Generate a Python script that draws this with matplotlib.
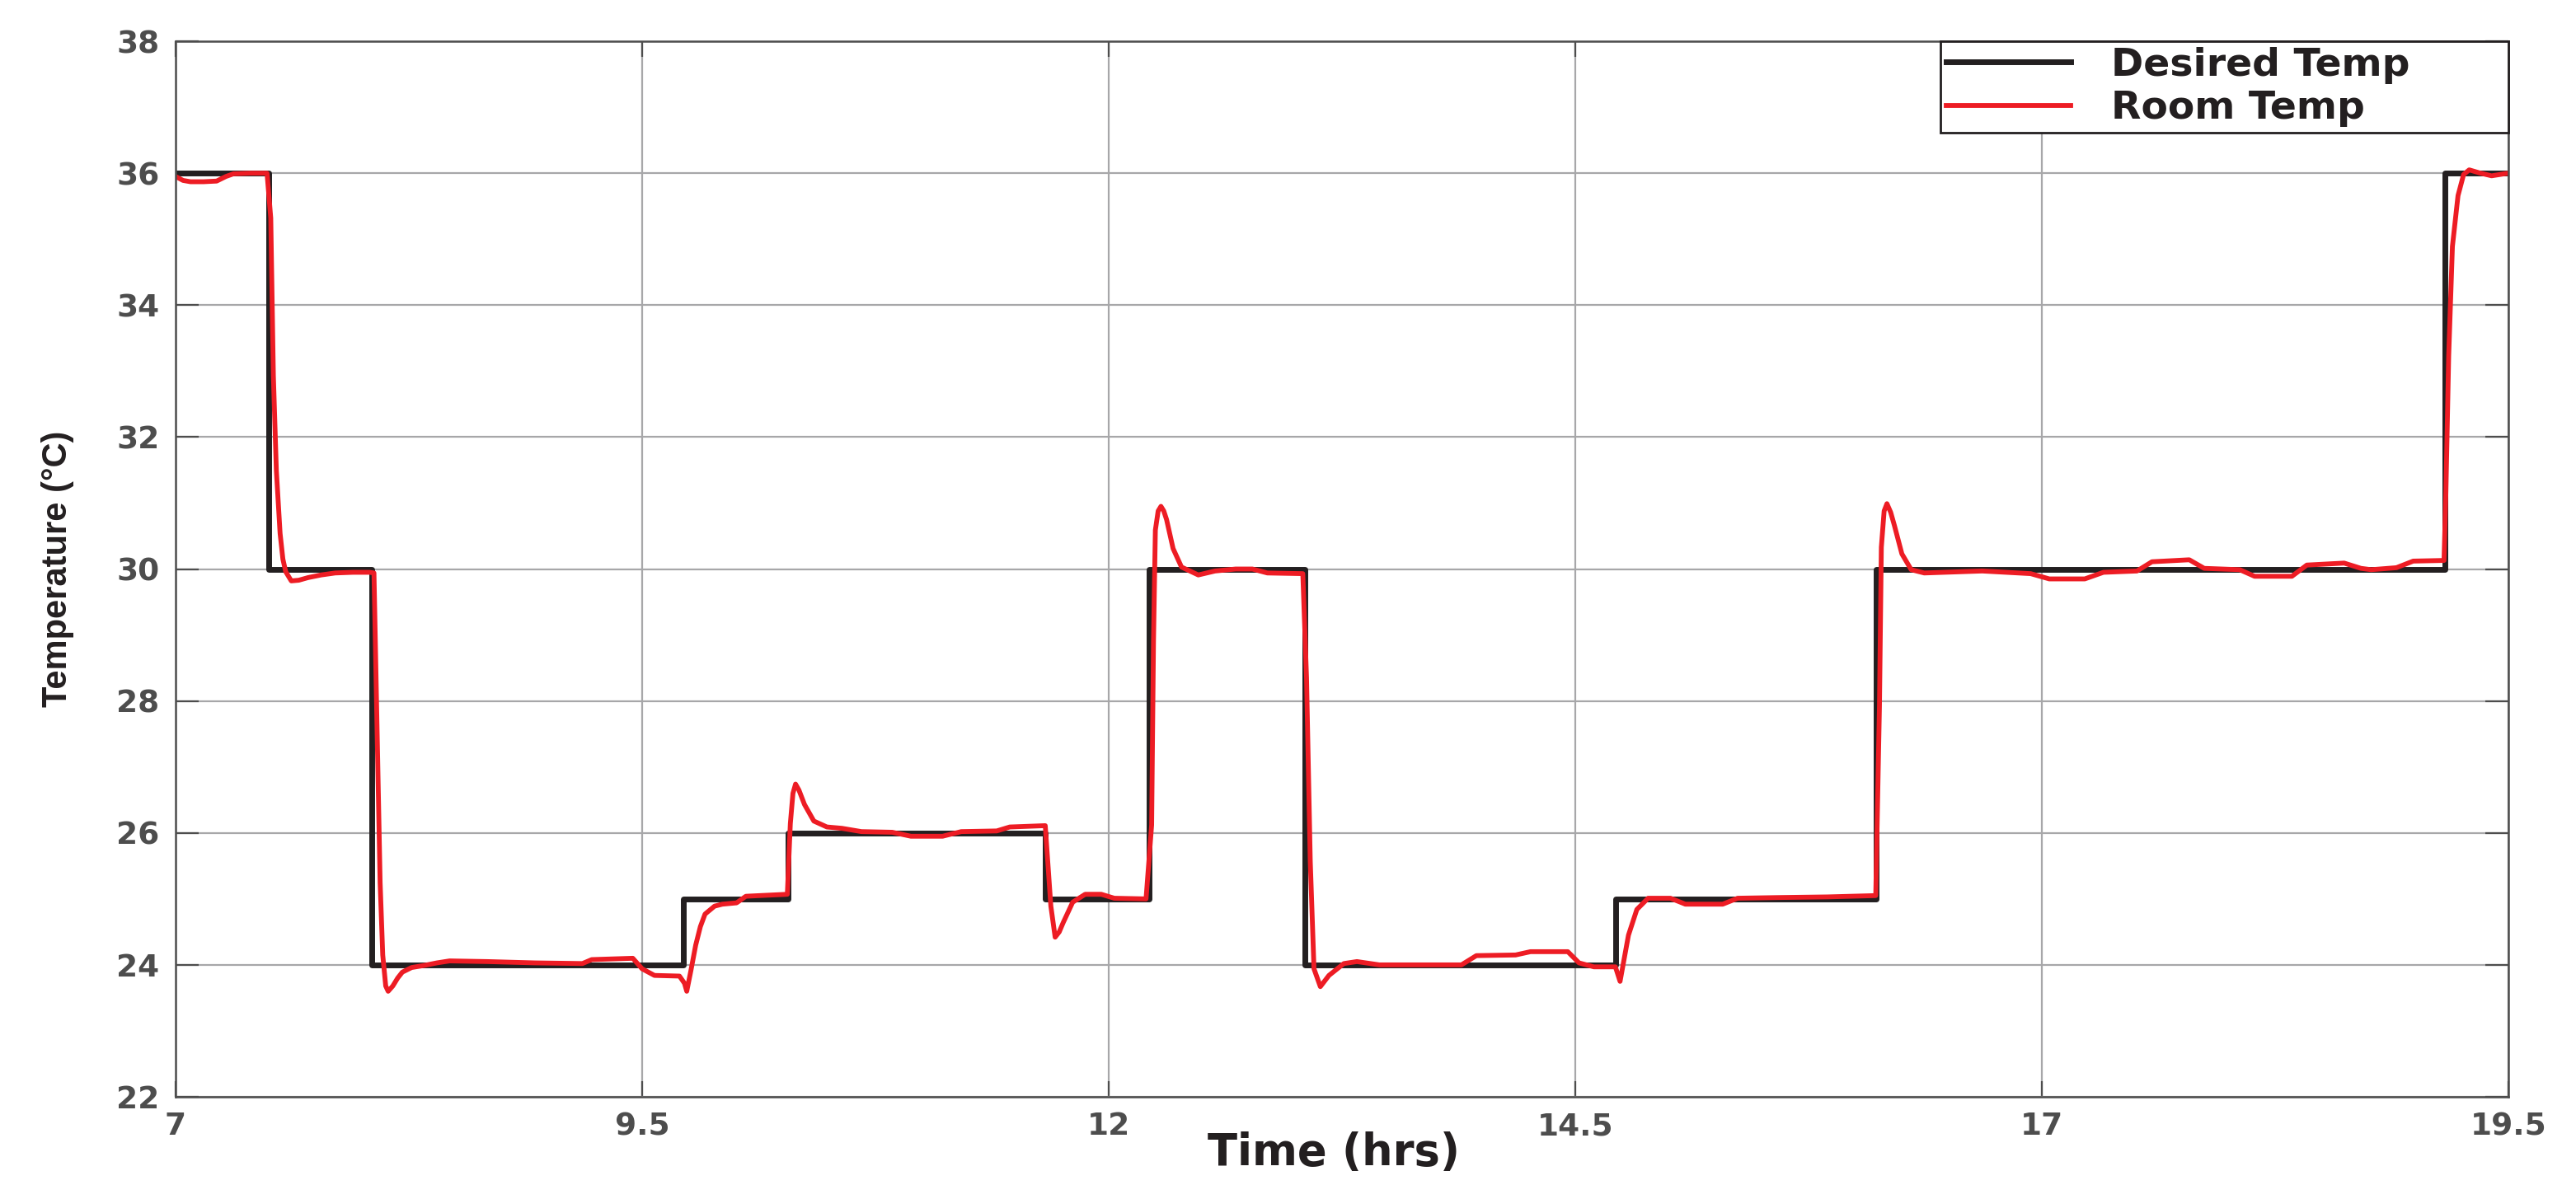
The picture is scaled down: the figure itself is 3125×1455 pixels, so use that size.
import matplotlib
matplotlib.use("Agg")
import matplotlib.pyplot as plt
from matplotlib import font_manager

# desired set-point schedule (step changes)
desired_t = [7.0, 7.5, 8.05, 9.72, 10.28, 11.66, 12.215, 13.05, 14.715, 16.11, 19.16, 19.5]
desired_temp = [36, 30, 24, 25, 26, 25, 30, 24, 25, 30, 36, 36]

# room temperature response
room_t = [7.00, 7.04, 7.08, 7.15, 7.22, 7.27, 7.31, 7.40, 7.49, 7.51, 7.524, 7.54, 7.56, 7.575,
          7.59, 7.62, 7.66, 7.71, 7.78, 7.855, 7.95, 8.04, 8.063, 8.079, 8.096, 8.11, 8.126,
          8.139, 8.164, 8.19, 8.215, 8.265, 8.33, 8.40, 8.468, 8.67, 8.925, 9.18, 9.23, 9.45,
          9.50, 9.566, 9.70, 9.727, 9.739, 9.761, 9.787, 9.812, 9.837, 9.888, 9.93, 10.006,
          10.056, 10.278, 10.294, 10.308, 10.322, 10.34, 10.37, 10.42, 10.49, 10.57, 10.675,
          10.84, 10.94, 11.11, 11.21, 11.40, 11.47, 11.66, 11.69, 11.713, 11.735, 11.756, 11.807,
          11.874, 11.96, 12.03, 12.20, 12.23, 12.24, 12.25, 12.265, 12.28, 12.295, 12.31, 12.345,
          12.39, 12.48, 12.57, 12.68, 12.77, 12.85, 13.04, 13.06, 13.08, 13.10, 13.134, 13.18,
          13.26, 13.33, 13.45, 13.89, 13.97, 14.18, 14.26, 14.46, 14.52, 14.60, 14.715, 14.74,
          14.785, 14.83, 14.89, 15.01, 15.09, 15.29, 15.37, 15.58, 15.85, 16.11, 16.13, 16.14,
          16.155, 16.17, 16.19, 16.21, 16.25, 16.30, 16.37, 16.68, 16.94, 17.04, 17.23, 17.33,
          17.51, 17.59, 17.79, 17.87, 18.06, 18.14, 18.34, 18.42, 18.62, 18.71, 18.765, 18.90,
          18.99, 19.155, 19.165, 19.18, 19.20, 19.23, 19.26, 19.29, 19.35, 19.41, 19.5]
room_temp = [35.95, 35.89, 35.87, 35.87, 35.88, 35.95, 35.99, 36.00, 36.00, 35.32, 32.93, 31.49,
             30.54, 30.15, 29.96, 29.82, 29.83, 29.87, 29.91, 29.94, 29.95, 29.95, 29.94, 27.64,
             25.25, 24.15, 23.68, 23.60, 23.68, 23.80, 23.89, 23.96, 23.99, 24.03, 24.06, 24.05,
             24.03, 24.02, 24.08, 24.10, 23.94, 23.84, 23.83, 23.72, 23.60, 23.91, 24.30, 24.58,
             24.77, 24.89, 24.92, 24.94, 25.04, 25.07, 26.14, 26.60, 26.74, 26.65, 26.43, 26.18,
             26.09, 26.07, 26.02, 26.01, 25.95, 25.95, 26.02, 26.03, 26.09, 26.11, 24.89, 24.42,
             24.50, 24.64, 24.95, 25.07, 25.07, 25.01, 25.00, 26.12, 28.91, 30.59, 30.88, 30.95,
             30.88, 30.75, 30.31, 30.03, 29.91, 29.97, 30.00, 30.00, 29.94, 29.93, 28.35, 25.57,
             23.94, 23.67, 23.84, 24.02, 24.05, 24.00, 24.00, 24.14, 24.15, 24.20, 24.20, 24.03,
             23.97, 23.97, 23.75, 24.45, 24.84, 25.01, 25.01, 24.92, 24.92, 25.01, 25.02, 25.03,
             25.05, 27.94, 30.33, 30.88, 30.99, 30.86, 30.66, 30.23, 29.99, 29.94, 29.97, 29.93,
             29.85, 29.85, 29.95, 29.97, 30.11, 30.14, 30.01, 29.99, 29.89, 29.89, 30.06, 30.09,
             30.01, 29.99, 30.02, 30.12, 30.13, 31.16, 33.23, 34.89, 35.66, 35.98, 36.05, 36.00,
             35.96, 36.00]

x_ticks = [7, 9.5, 12, 14.5, 17, 19.5]
x_tick_labels = ["7", "9.5", "12", "14.5", "17", "19.5"]
y_ticks = [22, 24, 26, 28, 30, 32, 34, 36, 38]

BLACK = "#231f20"
RED = "#ed1c24"
AXIS_GRAY = "#4d4d4d"
GRID_GRAY = "#a7a7a9"


def ylabel_font():
    # narrow face if the system has it, Arial-metric otherwise
    try:
        font_manager.findfont("Liberation Sans Narrow", fallback_to_default=False)
        return "Liberation Sans Narrow", 37
    except ValueError:
        return "Liberation Sans", 30


def plot_temps():
    fig = plt.figure(figsize=(31.25, 14.55), dpi=100)
    ax = fig.add_axes([0.06816, 0.08522, 0.90560, 0.88041])

    ax.plot(desired_t, desired_temp, drawstyle="steps-post", color=BLACK,
            linewidth=5.0, label="Desired Temp")
    ax.plot(room_t, room_temp, color=RED, linewidth=4.2, label="Room Temp")

    ax.set_xlim(7, 19.5)
    ax.set_ylim(22, 38)
    ax.set_xticks(x_ticks)
    ax.set_xticklabels(x_tick_labels)
    ax.set_yticks(y_ticks)

    ax.set_axisbelow(True)
    ax.grid(True, color=GRID_GRAY, linewidth=1.6)

    for side in ["left", "right", "top", "bottom"]:
        ax.spines[side].set_color(AXIS_GRAY)
        ax.spines[side].set_linewidth(1.8)

    ax.tick_params(axis="both", direction="in", colors=AXIS_GRAY, width=1.6,
                   labelsize=27, top=True, right=True)
    ax.tick_params(axis="x", length=14, pad=13)
    ax.tick_params(axis="y", length=20, pad=14)
    for lab in ax.get_xticklabels() + ax.get_yticklabels():
        lab.set_fontweight("bold")

    ax.set_xlabel("Time (hrs)", fontsize=38, fontweight="bold", color=BLACK)
    ax.xaxis.set_label_coords(0.4965, -0.033)
    fam, size = ylabel_font()
    ax.set_ylabel("Temperature (\u00b0C)", fontsize=size, fontweight="bold", color=BLACK,
                  family=[fam, "DejaVu Sans"])
    ax.yaxis.set_label_coords(-0.0435, 0.5)

    leg = ax.legend(loc="upper right", bbox_to_anchor=(0.7565, 0.0, 0.2435, 1.0),
                    mode="expand", borderaxespad=0, fancybox=False, framealpha=1,
                    edgecolor=BLACK, handlelength=3.2, handletextpad=1.05,
                    borderpad=0.14, labelspacing=0.16,
                    prop={"size": 34, "weight": "bold"})
    leg.get_frame().set_linewidth(2.0)
    for txt in leg.get_texts():
        txt.set_color(BLACK)

    fig.savefig("out.png", dpi=100, facecolor="white")


def main():
    plot_temps()


if __name__ == "__main__":
    main()
